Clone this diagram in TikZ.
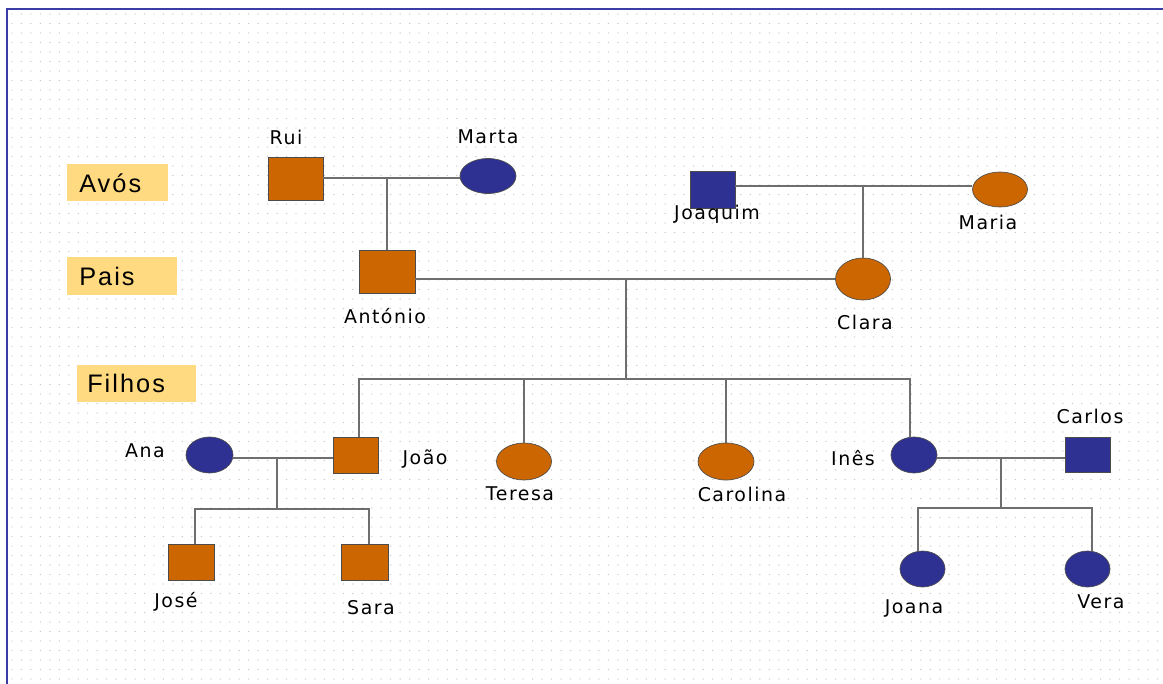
\documentclass[tikz,border=0pt]{standalone}
\usepackage{fontspec}
\setmainfont{DejaVu Sans}
\newfontfamily\namefont[LetterSpace=8]{DejaVu Sans}
\newfontfamily\headfont[LetterSpace=8]{Liberation Sans}
\definecolor{laranja}{HTML}{CC6600}
\definecolor{azul}{HTML}{2E3192}
\definecolor{moldura}{HTML}{3C3CA8}
\definecolor{etiqueta}{HTML}{FFDA80}
\definecolor{linha}{HTML}{6E6E6E}
\tikzset{
  homem/.style={draw=black!70, line width=0.5pt, minimum width=#1, minimum height=27pt, inner sep=0pt},
  mulher/.style={ellipse, draw=black!70, line width=0.5pt, minimum width=#1, minimum height=27pt, inner sep=0pt},
  nome/.style={font=\namefont\fontsize{14.2}{16}\selectfont, inner sep=0pt},
  geracao/.style={fill=etiqueta, font=\headfont\fontsize{19}{21}\selectfont, anchor=west, inner sep=0pt, minimum height=27.75pt, text depth=0pt},
  liga/.style={linha, line width=1.1pt},
  grelha/.style={black!22, line width=1.1pt, line cap=round, dash pattern=on 0pt off 7.1pt}
}
\usetikzlibrary{shapes.geometric}
\begin{document}
\begin{tikzpicture}[x=0.75pt, y=-0.75pt]
  \useasboundingbox (0,0) rectangle (1163,684);
  \fill[white] (0,0) rectangle (1163,684);
  \foreach \y in {14,23.5,...,684}
    \draw[grelha] (12,\y) -- (1163,\y);
  \draw[moldura, line width=1.5pt] (7,684) -- (7,9) -- (1163,9);

  \node[geracao, text width=75.75pt] (avos) at (67,183) {\hspace{9pt}Avós};
  \node[geracao, text width=82.5pt] (pais) at (67,276) {\hspace{9pt}Pais};
  \node[geracao, text width=89.25pt] (filhos) at (77,383) {\hspace{7.5pt}Filhos};

  \node[homem=41.25pt, minimum height=32.25pt, fill=laranja] (rui) at (295.5,178.5) {};
  \node[mulher=42pt, minimum height=26.25pt, fill=azul] (marta) at (488,176) {};
  \node[homem=42pt, minimum height=32.25pt, fill=laranja] (antonio) at (387,271.5) {};
  \node[homem=33.75pt, minimum height=27.75pt, fill=azul] (joaquim) at (712.5,189.5) {};
  \node[mulher=41.25pt, minimum height=26.25pt, fill=laranja] (maria) at (1000,189.5) {};
  \node[mulher=41.25pt, minimum height=31.5pt, fill=laranja] (clara) at (863,279) {};

  \node[homem=33.75pt, fill=laranja] (joao) at (355.5,455) {};
  \node[mulher=35.25pt, fill=azul] (ana) at (209.5,455) {};
  \node[mulher=41.25pt, minimum height=27.75pt, fill=laranja] (teresa) at (524,461.5) {};
  \node[mulher=42pt, minimum height=27.75pt, fill=laranja] (carolina) at (726,461.5) {};
  \node[mulher=34.5pt, fill=azul] (ines) at (914,455) {};
  \node[homem=33.75pt, minimum height=26.25pt, fill=azul] (carlos) at (1087.5,454.5) {};

  \node[homem=34.5pt, fill=laranja] (jose) at (191,562) {};
  \node[homem=35.25pt, fill=laranja] (sara) at (364.5,562) {};
  \node[mulher=33.75pt, fill=azul] (joana) at (922.5,569) {};
  \node[mulher=33.75pt, fill=azul] (vera) at (1087.5,569) {};

  \node[nome] (nrui) at (286,137) {Rui};
  \node[nome] (nmarta) at (488,137) {Marta};
  \node[nome] (nantonio) at (385,316) {António};
  \node[nome] (njoaquim) at (717,214) {Joaquim};
  \node[nome] (nmaria) at (988,222) {Maria};
  \node[nome] (nclara) at (865,322) {Clara};
  \node[nome] (nana) at (145,451) {Ana};
  \node[nome] (njoao) at (425,459) {João};
  \node[nome] (nteresa) at (520,494) {Teresa};
  \node[nome] (ncarolina) at (742,494) {Carolina};
  \node[nome] (nines) at (853,458) {Inês};
  \node[nome] (ncarlos) at (1090,416) {Carlos};
  \node[nome] (njose) at (176,602) {José};
  \node[nome] (nsara) at (371,608) {Sara};
  \node[nome] (njoana) at (914,608) {Joana};
  \node[nome] (nvera) at (1101,602) {Vera};

  \coordinate (c1) at (387,178);
  \coordinate (c2) at (863,186);
  \coordinate (c3) at (626,279);
  \coordinate (c4) at (626,379);
  \coordinate (c5) at (277,458);
  \coordinate (c6) at (277,509);
  \coordinate (c7) at (1001,458);
  \coordinate (c8) at (1001,508);

  \draw[liga] (rui.east |- c1) -- (marta.west |- c1);
  \draw[liga] (c1) -- (antonio.north);
  \draw[liga] (joaquim.east |- c2) -- (maria.west |- c2);
  \draw[liga] (c2) -- (clara.north);
  \draw[liga] (antonio.east |- c3) -- (clara.west);
  \draw[liga] (c3) -- (c4);
  \draw[liga] (joao.north -| 359,0) |- (c4) -| (ines.north -| 910,0);
  \draw[liga] (c4 -| teresa) -- (teresa.north);
  \draw[liga] (c4 -| carolina) -- (carolina.north);
  \draw[liga] (ana.east |- c5) -- (joao.west |- c5);
  \draw[liga] (c5) -- (c6);
  \draw[liga] (jose.north -| 195,0) |- (c6) -| (sara.north -| 369,0);
  \draw[liga] (ines.east |- c7) -- (carlos.west |- c7);
  \draw[liga] (c7) -- (c8);
  \draw[liga] (joana.north -| 918,0) |- (c8) -| (vera.north -| 1092,0);
\end{tikzpicture}
\end{document}
